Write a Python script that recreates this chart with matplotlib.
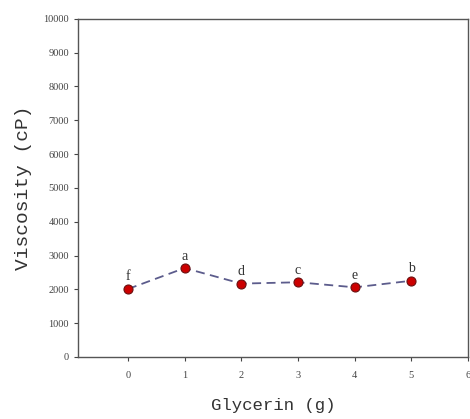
import matplotlib.pyplot as plt

glycerin = [0, 1, 2, 3, 4, 5]
viscosity = [2010, 2630, 2170, 2210, 2060, 2255]
letters = ["f", "a", "d", "c", "e", "b"]

plt.rcParams["font.family"] = ["Liberation Serif", "DejaVu Serif"]

fig = plt.figure(figsize=(4.7, 4.19), dpi=100)
ax = fig.add_axes([0.166, 0.148, 0.83, 0.807])

ax.plot(glycerin, viscosity, linestyle="--", color="#5c5c8c", linewidth=1.3,
        marker="o", markersize=6.5, markerfacecolor="#cc0000",
        markeredgecolor="#6a1010", markeredgewidth=0.8, dashes=(5, 3))
for x, y, s in zip(glycerin, viscosity, letters):
    ax.annotate(s, (x, y), xytext=(0, 4), textcoords="offset points",
                ha="center", va="bottom", fontsize=10, color="#333333")

ax.set_xlim(-0.88, 6.0)
ax.set_ylim(0, 10000)
ax.set_xticks(range(0, 7))
ax.set_yticks(range(0, 10001, 1000))
ax.tick_params(axis="both", labelsize=7.5, colors="#444444", length=3, width=0.8)
ax.tick_params(axis="x", pad=7)
for sp in ax.spines.values():
    sp.set_color("#555555")
    sp.set_linewidth(1.0)

ax.set_xlabel("Glycerin (g)", fontsize=12.5, color="#333333", labelpad=13,
              family="Liberation Mono")
ax.set_ylabel("Viscosity (cP)", fontsize=14, color="#333333", labelpad=8,
              family="Liberation Mono")

fig.savefig("out.png", dpi=100)
